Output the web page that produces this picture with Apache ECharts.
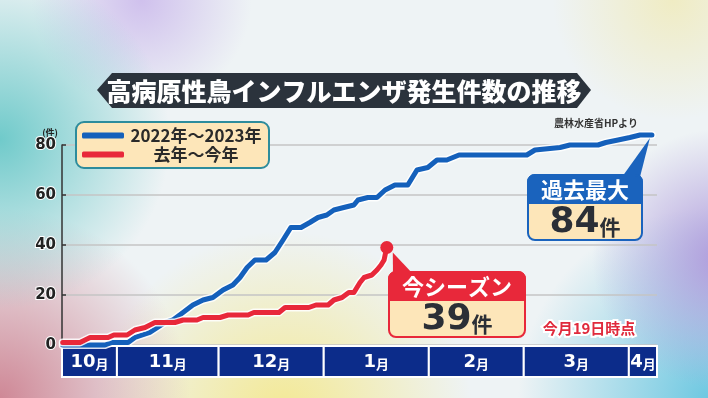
<!DOCTYPE html>
<html>
<head>
<meta charset="utf-8">
<script src="https://cdn.jsdelivr.net/npm/echarts@6/dist/echarts.min.js"></script>
<style>
  html, body { margin: 0; padding: 0; }
  body {
    width: 708px; height: 398px; overflow: hidden;
    background:
      radial-gradient(circle at 0% 35%, rgba(105,200,200,0.95) 0, rgba(105,200,200,0) 170px),
      radial-gradient(circle at 0% 100%, rgba(205,130,145,0.95) 0, rgba(205,130,145,0) 190px),
      radial-gradient(ellipse at 40% 105%, rgba(244,232,140,0.95) 0, rgba(244,232,140,0) 190px),
      radial-gradient(circle at 20% 0%, rgba(200,180,235,0.8) 0, rgba(200,180,235,0) 110px),
      radial-gradient(circle at 102% 65%, rgba(175,155,220,1) 0, rgba(175,155,220,0) 130px),
      radial-gradient(circle at 100% 100%, rgba(110,200,225,1) 0, rgba(110,200,225,0) 190px),
      radial-gradient(circle at 95% 0%, rgba(240,235,190,0.9) 0, rgba(240,235,190,0) 120px),
      #eef3f5;
  }
  #chart { width: 708px; height: 398px; }
</style>
</head>
<body>
<div id="chart"></div>
<script>
// 2022-23 シーズン（青） 横軸は10月1日からの日数
var blueDays   = [15, 27.5, 29.5, 34.3, 36.3, 40.7, 45.2, 47.5, 50.5, 53.4, 56.4, 59.3, 62.3, 65.2, 67.3, 69.4, 71.7, 75.0, 77.6, 80.0, 82.3, 85.3, 87.9, 90.3, 92.9, 95.0, 97.9, 100.9, 102.1, 105.0, 107.7, 110.1, 113.0, 116.8, 119.5, 122.7, 125.4, 128.3, 131.9, 151.9, 154.3, 161.7, 164.6, 172.9, 175.2, 178.8, 182.3, 185.3, 188.8];
var blueCounts = [0, 0, 1, 1, 3, 5, 9, 10, 13, 16, 18, 19, 22, 24, 27, 31, 34, 34, 37, 42, 47, 47, 49, 51, 52, 54, 55, 56, 58, 59, 59, 62, 64, 64, 70, 71, 74, 74, 76, 76, 78, 79, 80, 80, 81, 82, 83, 84, 84];
// 今シーズン（赤）
var redDays   = [15, 20.1, 23.1, 28.4, 30.1, 34.0, 36.3, 39.3, 42.2, 48.1, 50.5, 54.6, 56.4, 61.4, 63.8, 69.7, 71.4, 78.8, 80.6, 87.6, 89.7, 93.3, 95.0, 97.4, 99.4, 100.9, 102.7, 103.9, 106.2, 107.7, 108.9, 109.8, 110.1, 110.6];
var redCounts = [1, 1, 3, 3, 4, 4, 6, 7, 9, 9, 10, 10, 11, 11, 12, 12, 13, 13, 15, 15, 16, 16, 18, 19, 21, 21, 25, 27, 28, 30, 32, 34, 36, 39];
// 月の帯
var monthNames  = ['10', '11', '12', '1', '2', '3', '4'];
var monthStarts = [14.8, 31, 61, 92, 123, 151, 182];
var dayMin = 14.8, dayMax = 190.3;
var yTicks = [0, 20, 40, 60, 80];

var legendNames = ['2022年～2023年', '去年～今年'];
var FONT = '"Noto Sans CJK JP", "Noto Sans", sans-serif';
var NUMFONT = '"DejaVu Sans", "Noto Sans CJK JP", sans-serif';
var BLUE = '#1460bb', RED = '#e8283a', NAVY = '#0c2c8a', BEIGE = '#fde6b9';

function pairs(xs, ys) {
  var out = [];
  for (var i = 0; i < xs.length; i++) out.push([xs[i], ys[i]]);
  return out;
}
var blueData = pairs(blueDays, blueCounts);
var redData = pairs(redDays, redCounts);
var monthData = monthNames.map(function (m, i) {
  return [monthStarts[i], i + 1 < monthStarts.length ? monthStarts[i + 1] : dayMax, m];
});

var chart = echarts.init(document.getElementById('chart'), null, { renderer: 'canvas' });

var option = {
  animation: false,
  textStyle: { fontFamily: FONT },
  grid: [
    { left: 62, right: 51, top: 145, bottom: 53 },
    { left: 62, right: 51, top: 346, height: 31 }
  ],
  xAxis: [
    { type: 'value', gridIndex: 0, min: dayMin, max: dayMax, show: false },
    { type: 'value', gridIndex: 1, min: dayMin, max: dayMax, show: false }
  ],
  yAxis: [
    {
      type: 'value', gridIndex: 0, min: yTicks[0], max: yTicks[yTicks.length - 1], interval: 20,
      name: '(件)', nameLocation: 'end', nameGap: 6,
      nameTextStyle: { fontSize: 9, fontWeight: 'bold', color: '#222', align: 'right', padding: [0, 4, 0, 0] },
      axisLine: { show: true, lineStyle: { color: '#333', width: 1.5 } },
      axisTick: { show: true, inside: true, length: 4, lineStyle: { color: '#333', width: 1.5 } },
      axisLabel: { fontSize: 15, fontWeight: 'bold', color: '#222', margin: 6, fontFamily: NUMFONT, textBorderColor: '#fff', textBorderWidth: 2 },
      splitLine: { show: true, lineStyle: { color: '#c4c4c4', width: 1.5 } }
    },
    { type: 'value', gridIndex: 1, min: 0, max: 1, show: false }
  ],
  legend: {
    data: legendNames,
    orient: 'vertical',
    left: 76, top: 122,
    padding: [5, 6],
    itemGap: 2,
    itemWidth: 42, itemHeight: 6,
    icon: 'roundRect',
    backgroundColor: BEIGE,
    borderColor: '#2d8c9c', borderWidth: 2, borderRadius: 8,
    formatter: '{t|{name}}',
    textStyle: {
      rich: { t: { width: 134, align: 'center', fontSize: 17, lineHeight: 17, fontWeight: 'bold', color: '#2a2a2a', fontFamily: FONT } }
    }
  },
  series: [
    {
      name: 'blueHalo', type: 'line', data: blueData, symbol: 'none', clip: false, silent: true,
      lineStyle: { color: 'rgba(255,255,255,0.85)', width: 8, join: 'round', cap: 'round' }, z: 2
    },
    {
      name: legendNames[0], type: 'line', data: blueData, symbol: 'none', clip: false,
      itemStyle: { color: BLUE },
      lineStyle: { color: BLUE, width: 5, join: 'round', cap: 'round' }, z: 3,
      markPoint: {
        symbol: 'circle', symbolSize: 8, silent: true,
        itemStyle: { color: BLUE }, label: { show: false },
        data: [{ coord: blueData[blueData.length - 1] }]
      }
    },
    {
      name: 'redHalo', type: 'line', data: redData, symbol: 'none', clip: false, silent: true,
      lineStyle: { color: 'rgba(255,255,255,0.85)', width: 8, join: 'round', cap: 'round' }, z: 4
    },
    {
      name: legendNames[1], type: 'line', data: redData, symbol: 'none', clip: false,
      itemStyle: { color: RED },
      lineStyle: { color: RED, width: 5, join: 'round', cap: 'round' }, z: 5,
      markPoint: {
        symbol: 'circle', symbolSize: 13, silent: true,
        itemStyle: { color: RED }, label: { show: false },
        data: [{ coord: redData[redData.length - 1] }]
      }
    },
    {
      // 月の帯
      type: 'custom', xAxisIndex: 1, yAxisIndex: 1, data: monthData, silent: true,
      renderItem: function (params, api) {
        var p0 = api.coord([api.value(0), 1]);
        var p1 = api.coord([api.value(1), 0]);
        var m = monthData[params.dataIndex][2];
        return {
          type: 'group',
          children: [
            {
              type: 'rect',
              shape: { x: p0[0], y: p0[1], width: p1[0] - p0[0], height: p1[1] - p0[1] },
              style: { fill: NAVY, stroke: '#fff', lineWidth: 2 }
            },
            {
              type: 'text',
              style: {
                x: (p0[0] + p1[0]) / 2, y: (p0[1] + p1[1]) / 2 + 1,
                text: '{n|' + m + '}{m|月}',
                align: 'center', verticalAlign: 'middle',
                rich: {
                  n: { fontSize: 18, fontWeight: 'bold', fill: '#fff', fontFamily: NUMFONT },
                  m: { fontSize: 13, fontWeight: 'bold', fill: '#fff', fontFamily: FONT, padding: [4, 0, 0, 0] }
                }
              }
            }
          ]
        };
      }
    }
  ]
};
chart.setOption(option);

// 吹き出し
function callout(x, y, w, h, hh, color, head, num, tip, base) {
  return [
    {
      type: 'polygon', z: 20,
      shape: { points: [[base[0], y + 2], [base[1], y + 2], tip] },
      style: { fill: color }
    },
    {
      type: 'rect', z: 21,
      shape: { x: x, y: y, width: w, height: h, r: 7 },
      style: { fill: BEIGE, stroke: color, lineWidth: 2 }
    },
    {
      type: 'rect', z: 22,
      shape: { x: x, y: y, width: w, height: hh, r: [7, 7, 0, 0] },
      style: { fill: color, stroke: color, lineWidth: 2 }
    },
    {
      type: 'text', z: 23,
      style: {
        x: x + w / 2, y: y + hh / 2 + 1, text: head, align: 'center', verticalAlign: 'middle',
        fill: '#fff', fontSize: 22, fontWeight: 'bold', fontFamily: FONT
      }
    },
    {
      type: 'text', z: 23,
      style: {
        x: x + w / 2, y: y + hh + (h - hh) / 2 + 1, text: '{n|' + num + '}{u|件}', align: 'center', verticalAlign: 'middle',
        rich: {
          n: { fontSize: 36, fontWeight: 'bold', fill: '#2b2f36', fontFamily: NUMFONT },
          u: { fontSize: 21, fontWeight: 'bold', fill: '#2b2f36', fontFamily: FONT, padding: [10, 0, 0, 0] }
        }
      }
    }
  ];
}

var blueEnd = chart.convertToPixel({ seriesIndex: 1 }, blueData[blueData.length - 1]);
var redEnd = chart.convertToPixel({ seriesIndex: 3 }, redData[redData.length - 1]);

var graphics = [
  {
    // タイトル帯
    type: 'polygon', z: 10,
    shape: { points: [[97, 90], [112, 73], [577, 73], [591, 90], [577, 108], [112, 108]] },
    style: { fill: '#2b333c' }
  },
  {
    type: 'text', z: 11,
    style: {
      x: 344, y: 91, text: '高病原性鳥インフルエンザ発生件数の推移', align: 'center', verticalAlign: 'middle',
      fill: '#fff', fontSize: 25, fontWeight: 900, fontFamily: FONT
    }
  },
  {
    type: 'text', z: 11,
    style: {
      x: 596, y: 123, text: '農林水産省HPより', align: 'center', verticalAlign: 'middle',
      fill: '#333', fontSize: 10, fontWeight: 'bold', fontFamily: FONT
    }
  },
  {
    type: 'text', z: 11,
    style: {
      x: 589, y: 328, text: '今月19日時点', align: 'center', verticalAlign: 'middle',
      fill: '#e02a3c', fontSize: 15, fontWeight: 'bold', fontFamily: FONT,
      stroke: '#fff', lineWidth: 4
    }
  }
];
graphics = graphics
  .concat(callout(528, 175, 114, 65, 28, '#1a63bd', '過去最大', blueCounts[blueCounts.length - 1],
    [blueEnd[0] - 2, blueEnd[1] + 3], [622, 640]))
  .concat(callout(389, 272, 136, 65, 28, RED, '今シーズン', redCounts[redCounts.length - 1],
    [redEnd[0] + 6, redEnd[1] + 5], [393, 413]));

chart.setOption({ graphic: graphics });
</script>
</body>
</html>
